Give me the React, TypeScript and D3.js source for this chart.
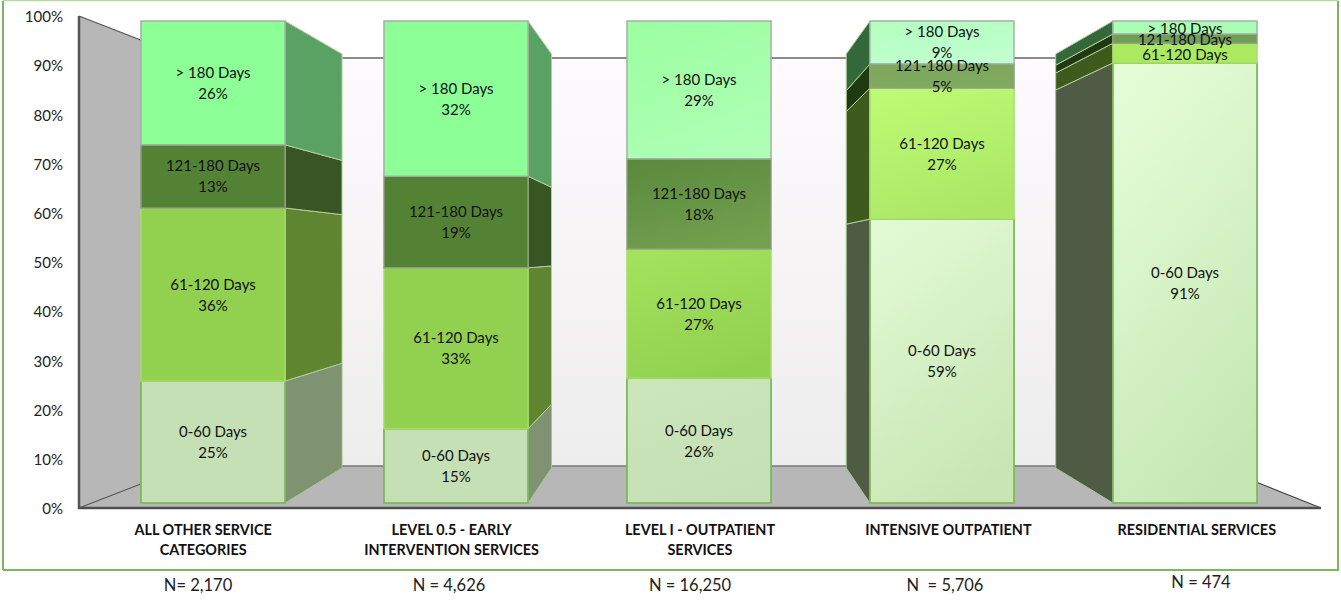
import React from "react";
import * as d3 from "d3";

const categories = [
  ["ALL OTHER SERVICE", "CATEGORIES"],
  ["LEVEL 0.5 - EARLY", "INTERVENTION SERVICES"],
  ["LEVEL I - OUTPATIENT", "SERVICES"],
  ["INTENSIVE OUTPATIENT"],
  ["RESIDENTIAL SERVICES"],
];
const segments = ["0-60 Days", "61-120 Days", "121-180 Days", "> 180 Days"];
const days0to60 = [25.3, 15.4, 25.9, 58.9, 91.3];
const days61to120 = [35.9, 33.4, 26.8, 27.2, 4.1];
const days121to180 = [13.1, 19.0, 18.7, 5.0, 1.9];
const daysOver180 = [25.7, 32.2, 28.6, 8.9, 2.7];
const percentLabels = [
  ["25%", "36%", "13%", "26%"],
  ["15%", "33%", "19%", "32%"],
  ["26%", "27%", "18%", "29%"],
  ["59%", "27%", "5%", "9%"],
  ["91%", "", "", ""],
];
const nLabels = ["N= 2,170", "N = 4,626", "N = 16,250", "N  = 5,706", "N = 474"];
const percentTicks = d3.range(0, 101, 10);

const frontColors = [
  [["#c5e0b4", "#c5e0b4"], ["#92d050", "#92d050"], ["#548235", "#548235"], ["#8cff96", "#8cff96"]],
  [["#c5e0b4", "#c5e0b4"], ["#92d050", "#92d050"], ["#548235", "#548235"], ["#8cff96", "#8cff96"]],
  [["#cce6bc", "#c5e0b4"], ["#a2e25c", "#92d050"], ["#5c8a3e", "#72a04e"], ["#9cffa2", "#aeffb4"]],
  [["#e2fad4", "#c8e6b4"], ["#bdfb74", "#abe765"], ["#7da75c", "#80aa60"], ["#b4ffc0", "#c0ffcf"]],
  [["#e5fdd7", "#c6e7b4"], ["#abe960", "#abe960"], ["#6f9f55", "#6f9f55"], ["#a9ffb4", "#a9ffb4"]],
];
const sideColors = [
  ["#7f9272", "#5f8530", "#375623", "#5aa263"],
  ["#7f9272", "#5f8530", "#375623", "#5aa263"],
  ["#7f9272", "#5f8530", "#375623", "#5aa263"],
  ["#4f5b45", "#3e5a1c", "#1f3a10", "#33683a"],
  ["#4f5b45", "#3e5a1c", "#1f3a10", "#33683a"],
];
const frontStrokes = ["#7db85c", "#a6dc6c", "#8f9f85", "#a3aaa3"];

const FONT = "Lato, Carlito, Calibri, sans-serif";
const W = 1341, H = 600;

const rows = categories.map((_, i) => ({
  i,
  [segments[0]]: days0to60[i],
  [segments[1]]: days61to120[i],
  [segments[2]]: days121to180[i],
  [segments[3]]: daysOver180[i],
}));
const stacked = d3.stack<any>().keys(segments)(rows);

const ids = categories.map((_, i) => i);
const barBand = d3.scaleBand<number>().domain(ids).range([91.5, 1306.5]).paddingInner(0.407).paddingOuter(0.2035);
const axisBand = d3.scaleBand<number>().domain(ids).range([79, 1321]);
const yFront = d3.scaleLinear().domain([0, 100]).range([503, 21]);
const yBack = d3.scaleLinear().domain([0, 100]).range([468, 54]);
const yAxis = d3.scaleLinear().domain([0, 100]).range([508, 16]);
const VANISH_X = 698;
const toBack = (x: number) => VANISH_X + (x - VANISH_X) * 0.862;

const nCenters = [198, 449, 690, 945, 1201];
const nY = [587, 587, 587, 587, 584];

export default function App() {
  React.useEffect(() => {
    document.body.style.margin = "0";
  }, []);
  return (
    <svg width={W} height={H} style={{ display: "block", position: "absolute", left: 0, top: 0, background: "#fff" }} fontFamily={FONT}>
      <defs>
        <linearGradient id="wall" x1="0" y1="0" x2="0" y2="1">
          <stop offset="0" stopColor="#fdfbfd" />
          <stop offset="1" stopColor="#eeeded" />
        </linearGradient>
        {frontColors.map((bar, b) =>
          bar.map((c, s) => (
            <linearGradient key={`${b}-${s}`} id={`f${b}${s}`} x1="0.2" y1="0" x2="0.6" y2="1">
              <stop offset="0" stopColor={c[0]} />
              <stop offset="1" stopColor={c[1]} />
            </linearGradient>
          ))
        )}
      </defs>

      {/* frame */}
      <path d="M3,570 V1" fill="none" stroke="#7cb65c" strokeWidth={2} />
      <path d="M3,570 H1338 V1" fill="none" stroke="#7cb65c" strokeWidth={2} />
      <path d="M3,0.5 H1338" fill="none" stroke="#b5dc9c" strokeWidth={1.5} />

      {/* walls and floor */}
      <rect x={187} y={yBack(100) + 4} width={1029} height={yBack(0) - yBack(100) - 6} fill="url(#wall)" />
      <path d="M79,508 L187,466 H1216 L1321,508 Z" fill="#b7b7b7" />
      <path d="M79,16 L187,58 V466 L79,508 Z" fill="#b7b7b7" />
      <path d="M187,58 H1216" stroke="#666" strokeWidth={1.5} fill="none" />
      <path d="M187,466 H1216" stroke="#777" strokeWidth={1.5} fill="none" />
      <path d="M79,16 L187,58" stroke="#555" strokeWidth={1.2} fill="none" />
      <path d="M79,508 L187,466" stroke="#555" strokeWidth={1.2} fill="none" />
      <path d="M1321,508 L1216,466" stroke="#444" strokeWidth={1.2} fill="none" />
      <path d="M79,16 V509" stroke="#555" strokeWidth={2.5} fill="none" />
      <path d="M78,508 H1321" stroke="#4f4f4f" strokeWidth={2.5} fill="none" />

      {/* y ticks */}
      {percentTicks.map((t) => (
        <text key={t} x={63} y={yAxis(t) + 2.5} textAnchor="end" dominantBaseline="middle" fontSize={15} fill="#222">
          {t}%
        </text>
      ))}

      {/* bars: side faces */}
      {ids.map((b) => {
        const x0 = barBand(b)!;
        const x1 = x0 + barBand.bandwidth();
        const cx = (x0 + x1) / 2;
        const edge = cx < VANISH_X ? x1 : x0;
        const backX = toBack(edge);
        // the third bar sits in front of the vanishing point, so its side is hidden
        if (cx < VANISH_X ? backX <= x1 : backX >= x0) return null;
        return (
          <g key={b}>
            {stacked.map((ser, s) => {
              const [a, c] = ser[b];
              return (
                <path
                  key={s}
                  d={`M${edge},${yFront(a)} L${backX},${yBack(a)} L${backX},${yBack(c)} L${edge},${yFront(c)} Z`}
                  fill={sideColors[b][s]}
                  stroke={s === 0 ? "#9fc98a" : "#b4cf9c"}
                  strokeWidth={1}
                />
              );
            })}
          </g>
        );
      })}

      {/* bars: front faces */}
      {stacked.map((ser, s) =>
        ser.map((d, b) => (
          <rect
            key={`${s}-${b}`}
            x={barBand(b)}
            y={yFront(d[1])}
            width={barBand.bandwidth()}
            height={yFront(d[0]) - yFront(d[1])}
            fill={`url(#f${b}${s})`}
            stroke={frontStrokes[s]}
            strokeWidth={s === 0 ? 1.8 : 1.4}
          />
        ))
      )}

      {/* data labels */}
      {stacked.map((ser, s) =>
        ser.map((d, b) => {
          const cx = barBand(b)! + barBand.bandwidth() / 2;
          const cy = (yFront(d[0]) + yFront(d[1])) / 2;
          const pct = percentLabels[b][s];
          return (
            <text key={`${s}-${b}`} x={cx} textAnchor="middle" fontSize={15} fill="#111">
              {pct ? (
                <>
                  <tspan x={cx} y={cy - 5}>{segments[s]}</tspan>
                  <tspan x={cx} y={cy + 16}>{pct}</tspan>
                </>
              ) : (
                <tspan x={cx} y={cy + 6.5}>{segments[s]}</tspan>
              )}
            </text>
          );
        })
      )}

      {/* category labels */}
      {categories.map((lines, i) => (
        <text key={i} textAnchor="middle" fontSize={14.4} fontWeight={700} fill="#111">
          {lines.map((l, j) => (
            <tspan key={j} x={axisBand(i)! + axisBand.bandwidth() / 2} y={535 + j * 20}>
              {l}
            </tspan>
          ))}
        </text>
      ))}

      {/* N labels */}
      {nLabels.map((n, i) => (
        <text key={i} x={nCenters[i]} y={nY[i]} textAnchor="middle" dominantBaseline="middle" fontSize={16.5} fill="#222" style={{ whiteSpace: "pre" }}>
          {n}
        </text>
      ))}
    </svg>
  );
}
